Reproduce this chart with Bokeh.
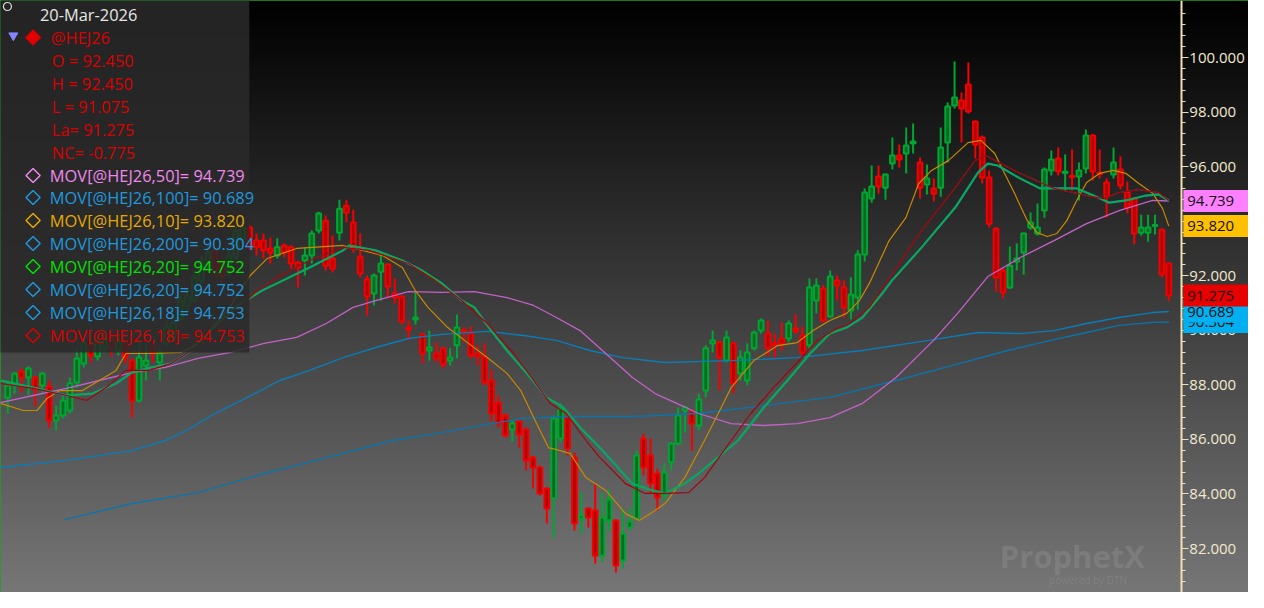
import numpy as np
from bokeh.plotting import figure
from bokeh.models import (ColumnDataSource, LinearAxis, FixedTicker,
                          PrintfTickFormatter, BoxAnnotation, Label)
from bokeh.core.properties import value
from bokeh.embed import file_html
from bokeh.resources import INLINE

# ---------------- data ----------------
symbol = "@HEJ26"
date_label = "20-Mar-2026"
price_ticks = [82, 84, 86, 88, 90, 92, 94, 96, 98, 100]

opens = [
    87.53, 87.98, 88.49, 88.27, 88.27, 87.98, 87.94, 86.69, 86.88, 87.06,
    88.09, 88.78, 89.45, 89.04, 89.34, 89.70, 89.26, 89.52, 88.89, 87.43,
    88.71, 89.45, 88.82, 89.52, 89.74, 90.40, 90.91, 91.09, 91.83, 92.30,
    92.93, 92.48, 92.19, 92.67, 93.29, 93.77, 93.29, 93.29, 93.00, 92.74,
    93.11, 93.04, 92.48, 92.56, 92.74, 93.66, 94.02, 92.63, 93.58, 94.57,
    93.95, 92.70, 91.86, 91.35, 92.15, 92.41, 91.35, 91.24, 90.10, 90.40,
    89.85, 89.26, 89.15, 89.34, 88.89, 89.45, 90.01, 89.88, 89.15, 89.04,
    88.16, 87.35, 86.88, 86.36, 86.66, 86.36, 85.34, 84.97, 84.20, 83.83,
    86.03, 86.80, 85.34, 83.10, 83.47, 83.39, 81.74, 83.03, 83.03, 81.56,
    82.77, 83.10, 86.03, 85.41, 84.75, 83.94, 85.16, 85.85, 87.06, 87.02,
    86.51, 87.79, 89.52, 89.56, 88.89, 89.52, 88.42, 88.16, 89.34, 89.99,
    89.88, 89.52, 89.70, 89.70, 90.07, 89.81, 89.45, 91.09, 91.53, 90.51,
    91.83, 91.57, 90.73, 91.20, 92.78, 94.83, 95.64, 95.23, 96.11, 96.41,
    96.48, 96.85, 96.15, 95.34, 95.20, 95.23, 96.88, 98.24, 98.42, 99.01,
    97.65, 97.07, 95.60, 93.73, 92.19, 91.57, 92.52, 92.85, 93.77, 93.55,
    94.39, 95.86, 96.30, 95.77, 95.66, 95.64, 95.93, 97.14, 95.77, 95.42,
    95.71, 95.89, 95.05, 94.83, 93.58, 93.58, 93.82, 93.69, 92.45]

highs = [
    88.16, 88.45, 88.60, 88.67, 88.31, 88.45, 88.16, 87.24, 87.61, 88.27,
    89.37, 89.74, 89.70, 89.78, 89.99, 89.85, 89.88, 89.88, 88.97, 89.63,
    89.45, 89.52, 89.34, 90.36, 90.51, 91.28, 91.46, 92.19, 92.74, 93.11,
    93.11, 92.74, 92.93, 93.84, 94.10, 93.84, 93.55, 93.55, 93.40, 93.37,
    93.18, 93.11, 92.55, 93.04, 93.66, 94.35, 94.21, 93.47, 94.79, 94.79,
    94.43, 93.55, 92.01, 92.08, 92.85, 92.45, 91.90, 91.28, 90.36, 91.42,
    89.90, 89.99, 89.56, 89.38, 89.34, 90.58, 90.10, 90.14, 89.45, 89.52,
    88.56, 87.61, 86.95, 86.69, 86.69, 86.44, 85.40, 85.04, 84.25, 86.88,
    87.32, 86.95, 85.52, 84.05, 83.50, 84.35, 84.05, 84.16, 83.08, 83.47,
    83.50, 85.59, 86.21, 86.03, 84.93, 85.12, 85.89, 87.17, 87.24, 87.08,
    87.68, 89.45, 89.99, 89.62, 89.99, 89.58, 89.26, 89.52, 89.99, 90.43,
    90.36, 89.88, 90.29, 90.36, 90.58, 90.14, 91.90, 91.90, 91.64, 92.19,
    92.01, 91.83, 91.94, 92.93, 95.20, 96.04, 96.04, 95.75, 97.07, 96.81,
    97.43, 97.58, 96.33, 96.08, 95.56, 97.43, 98.35, 99.85, 98.72, 99.82,
    97.69, 97.14, 95.86, 93.78, 92.30, 93.07, 93.18, 93.58, 94.32, 94.65,
    95.97, 96.59, 96.70, 96.44, 96.63, 96.15, 97.36, 97.19, 96.63, 95.56,
    96.70, 96.37, 95.45, 94.87, 94.24, 94.24, 94.24, 93.73, 92.45]

lows = [
    86.95, 87.68, 87.72, 87.64, 87.21, 87.68, 86.43, 86.33, 86.77, 86.95,
    87.90, 88.64, 88.82, 88.89, 89.19, 89.04, 89.08, 88.78, 86.80, 87.35,
    88.16, 88.82, 88.16, 89.41, 89.63, 90.36, 90.65, 91.02, 91.72, 92.19,
    91.94, 91.72, 92.01, 92.56, 93.11, 92.93, 92.74, 92.63, 92.45, 92.63,
    92.67, 92.26, 91.57, 92.01, 92.45, 93.55, 92.19, 92.12, 93.29, 93.95,
    92.85, 91.94, 90.54, 90.91, 91.09, 91.17, 90.98, 90.21, 89.63, 90.21,
    88.78, 88.89, 88.82, 88.60, 88.71, 88.97, 89.56, 88.97, 88.71, 87.98,
    86.66, 86.44, 86.07, 85.92, 85.70, 84.86, 84.20, 83.94, 82.92, 82.40,
    85.89, 85.41, 82.66, 82.55, 82.77, 81.45, 81.49, 82.66, 81.12, 81.27,
    82.66, 83.03, 84.68, 84.02, 83.39, 83.76, 84.86, 85.78, 86.25, 85.59,
    86.33, 87.54, 89.19, 87.79, 88.82, 87.68, 88.16, 87.98, 89.26, 89.88,
    89.04, 89.00, 89.26, 89.56, 89.88, 89.00, 89.26, 90.62, 90.29, 90.47,
    91.09, 90.47, 90.40, 90.76, 92.52, 94.68, 95.01, 94.79, 95.89, 95.97,
    95.75, 96.48, 94.83, 94.98, 94.72, 94.90, 96.15, 98.13, 96.88, 97.95,
    96.30, 95.38, 93.77, 91.42, 91.17, 91.52, 92.19, 92.04, 93.69, 93.47,
    94.13, 95.67, 95.67, 95.12, 95.12, 94.76, 95.75, 95.49, 95.56, 94.13,
    95.56, 95.16, 94.28, 93.15, 93.47, 93.25, 93.51, 91.94, 91.075]

closes = [
    87.98, 88.42, 88.27, 88.60, 87.83, 88.42, 86.69, 86.88, 87.43, 88.05,
    88.97, 89.52, 89.08, 89.56, 89.70, 89.34, 89.63, 89.00, 87.43, 89.00,
    88.89, 89.15, 89.15, 90.10, 90.25, 91.09, 91.28, 91.94, 92.56, 92.85,
    92.19, 92.01, 92.74, 93.66, 93.77, 93.04, 93.04, 92.93, 92.85, 93.04,
    92.85, 92.45, 92.30, 92.74, 93.55, 94.28, 92.37, 92.26, 94.46, 94.31,
    93.00, 92.08, 91.24, 92.01, 92.45, 91.61, 91.20, 90.32, 90.03, 90.47,
    89.15, 89.37, 88.97, 88.75, 89.00, 90.10, 89.94, 89.08, 89.04, 88.09,
    86.95, 86.58, 86.14, 86.58, 86.18, 85.23, 84.97, 84.02, 83.47, 86.77,
    87.13, 85.67, 82.92, 83.21, 83.14, 81.74, 83.14, 83.80, 81.38, 82.55,
    82.99, 85.41, 84.97, 84.38, 83.87, 84.79, 85.85, 86.88, 87.17, 86.58,
    87.46, 89.34, 89.63, 89.00, 89.74, 88.05, 89.00, 89.19, 89.92, 90.36,
    89.34, 89.45, 89.52, 90.25, 89.96, 89.19, 91.57, 91.64, 90.36, 91.97,
    91.64, 90.84, 91.31, 92.78, 95.05, 95.27, 95.27, 95.71, 96.41, 96.26,
    96.77, 96.92, 95.23, 95.56, 95.01, 96.70, 98.20, 98.53, 98.13, 98.02,
    96.81, 95.60, 93.91, 91.94, 91.39, 92.37, 92.63, 93.55, 93.95, 93.77,
    95.89, 96.26, 95.82, 95.81, 95.62, 95.86, 97.14, 95.82, 95.73, 94.90,
    96.15, 95.31, 94.50, 93.55, 93.77, 93.77, 93.86, 92.05, 91.275]

# moving averages, sampled along each line in the picture (bar index, value)
ma10_idx = [-1.04, 2.24, 4.24, 5.67, 7.53, 10.81, 13.24, 15.67, 17.10, 20.39, 25.10,
            27.53, 31.81, 35.10, 37.53, 41.81, 48.53, 54.24, 57.10, 58.96, 60.81, 63.67,
            66.10, 69.39, 72.24, 74.24, 76.10, 78.24, 79.96, 81.39, 83.67, 86.53, 89.39,
            91.39, 93.24, 95.10, 97.96, 100.81, 102.81, 104.67, 107.96, 111.39, 114.24,
            116.53, 118.96, 121.39, 123.24, 124.67, 127.53, 129.96, 131.81, 133.67,
            136.10, 138.96, 140.81, 142.81, 144.24, 145.67, 147.53, 148.96, 150.39,
            151.81, 153.24, 154.67, 156.10, 157.96, 159.96, 161.81, 163.67, 165.67,
            167.10, 168.0]
ma10_val = [87.32, 87.06, 87.06, 87.50, 87.79, 87.79, 88.16, 88.53, 89.15, 89.15, 89.19,
            89.52, 90.73, 92.01, 92.63, 93.00, 93.11, 92.74, 92.30, 91.46, 90.84, 90.10,
            89.63, 89.00, 88.42, 87.79, 86.80, 85.70, 85.59, 85.48, 84.60, 84.13, 83.28,
            83.03, 83.32, 83.65, 84.60, 85.96, 86.95, 87.90, 88.89, 89.44, 89.55, 89.99,
            90.36, 90.62, 91.09, 91.72, 93.29, 94.13, 95.38, 95.86, 96.22, 96.88, 96.96,
            96.48, 95.75, 95.02, 94.02, 93.58, 93.44, 93.55, 94.02, 94.76, 95.42, 95.75,
            95.86, 95.75, 95.38, 95.02, 94.46, 93.820]

ma18_idx = [-1.04, 3.67, 8.53, 11.39, 14.67, 17.10, 20.39, 23.67, 26.53, 28.53, 33.24,
            36.10, 38.96, 43.67, 48.53, 52.24, 57.96, 61.81, 65.67, 69.39, 73.24, 76.10,
            78.53, 80.81, 83.67, 85.67, 89.39, 92.24, 95.10, 98.53, 100.81, 104.67,
            107.53, 110.81, 114.24, 117.10, 119.96, 121.81, 124.67, 127.53, 132.24,
            137.10, 139.96, 141.53, 143.67, 146.53, 151.39, 156.10, 158.53, 160.81,
            163.67, 166.53, 168.0]
ma18_val = [88.05, 87.87, 87.61, 87.43, 87.98, 88.53, 88.53, 88.78, 89.26, 89.63, 90.80,
            91.46, 91.93, 92.56, 93.04, 92.93, 92.45, 91.83, 91.09, 90.25, 89.15, 88.16,
            87.32, 86.95, 85.96, 85.34, 84.38, 84.02, 84.02, 84.05, 84.60, 85.96, 86.95,
            87.90, 88.82, 89.63, 90.07, 90.25, 90.84, 91.90, 93.66, 95.23, 96.22, 96.41,
            96.11, 95.75, 95.20, 94.94, 94.83, 95.05, 95.16, 95.05, 94.753]

ma20_idx = [-1.04, 3.67, 8.53, 12.24, 15.67, 17.96, 20.81, 23.67, 26.53, 29.39, 33.24,
            36.81, 38.96, 43.67, 48.53, 49.39, 53.24, 57.10, 59.96, 62.81, 65.67, 67.53,
            69.96, 72.24, 75.10, 77.96, 80.39, 82.81, 84.67, 85.67, 90.39, 93.24, 95.10,
            97.96, 99.96, 105.67, 109.39, 112.81, 116.10, 118.96, 121.39, 123.67, 126.53,
            127.96, 132.24, 137.10, 140.39, 141.81, 143.24, 146.53, 149.39, 152.24,
            154.67, 157.10, 159.39, 161.81, 164.67, 166.53, 168.0]
ma20_val = [88.16, 87.90, 87.61, 87.68, 88.05, 88.45, 88.64, 88.78, 89.26, 89.99, 90.91,
            91.46, 91.72, 92.30, 92.93, 93.11, 92.93, 92.56, 92.19, 91.72, 91.09, 90.84,
            89.99, 89.26, 88.42, 87.54, 87.17, 86.44, 85.96, 85.70, 84.38, 84.13, 84.02,
            84.38, 84.75, 85.96, 87.17, 88.16, 89.15, 89.88, 90.10, 90.47, 91.35, 91.83,
            93.04, 94.50, 95.78, 96.11, 96.04, 95.56, 95.20, 95.20, 95.20, 94.94, 94.68,
            94.76, 94.94, 94.98, 94.752]

ma50_idx = [-1.04, 3.67, 8.53, 13.24, 17.96, 22.81, 27.53, 32.24, 37.10, 41.81, 46.10,
            49.96, 53.24, 57.96, 62.81, 67.53, 72.24, 76.10, 79.39, 82.81, 86.53, 90.39,
            93.67, 97.53, 99.96, 104.67, 109.39, 114.24, 118.96, 123.67, 128.53, 133.96,
            137.53, 141.81, 146.53, 151.39, 156.10, 160.81, 165.67, 168.0]
ma50_val = [87.35, 87.61, 87.87, 88.16, 88.45, 88.64, 88.97, 89.19, 89.52, 89.74, 90.25,
            90.84, 91.09, 91.42, 91.39, 91.42, 91.20, 90.91, 90.47, 89.99, 89.15, 88.27,
            87.68, 87.24, 86.95, 86.58, 86.51, 86.58, 86.80, 87.32, 88.27, 89.63, 90.65,
            91.97, 92.67, 93.29, 93.91, 94.39, 94.76, 94.739]

ma100_idx = [-1.04, 8.53, 17.96, 22.81, 26.10, 29.96, 34.67, 39.39, 43.67, 48.53, 53.24,
             57.96, 62.81, 69.39, 74.67, 79.39, 84.24, 88.96, 95.10, 104.67, 114.24,
             123.67, 133.24, 140.39, 146.53, 151.39, 156.10, 160.81, 165.67, 168.0]
ma100_val = [84.97, 85.23, 85.59, 85.96, 86.36, 86.95, 87.54, 88.16, 88.53, 89.00, 89.37,
             89.70, 89.85, 89.96, 89.81, 89.63, 89.26, 89.00, 88.82, 88.89, 89.00, 89.26,
             89.63, 89.92, 89.88, 89.99, 90.25, 90.47, 90.65, 90.689]

ma200_idx = [8.24, 17.96, 27.53, 37.10, 41.81, 55.67, 62.81, 69.96, 74.67, 81.81, 90.39,
             99.96, 109.39, 118.96, 128.53, 135.67, 144.67, 151.39, 156.10, 160.81,
             165.67, 168.0]
ma200_val = [83.06, 83.65, 84.05, 84.75, 85.05, 85.96, 86.25, 86.58, 86.77, 86.84, 86.84,
             86.95, 87.24, 87.54, 88.16, 88.64, 89.26, 89.66, 89.92, 90.18, 90.29, 90.304]

# ---------------- layout helpers (reference pixel -> data coordinate) ----------------
FONT = "Open Sans"
W, H = 1248, 592
X0, X1 = -7.3 / 7, (1264 - 7.3) / 7
Y1 = 100 + 57 / 27.28
Y0 = 100 - (H - 57) / 27.28


def sx(px):
    return (px - 7.3) / 7


def sy(py):
    return 100 - (py - 57) / 27.28


p = figure(width=W, height=H, x_range=(X0, X1), y_range=(Y0, Y1),
           output_backend="svg", toolbar_location=None,
           x_axis_type=None, y_axis_type=None, min_border=0)
p.background_fill_color = "#000000"
p.border_fill_color = "#000000"
p.outline_line_color = "#22a022"
p.outline_line_width = 1

# background gradient (black at top -> grey at bottom)
rows = 296
img = np.empty((rows, 1), dtype=np.uint32)
view = img.view(dtype=np.uint8).reshape((rows, 1, 4))
for r in range(rows):
    frac = (r + 0.5) / rows
    yref = H * (1 - frac)
    g = int(min(255, 0.2 * yref))
    view[r, 0, :] = (g, g, g, 255)
p.image_rgba(image=[img], x=X0, y=Y0, dw=X1 - X0, dh=Y1 - Y0)

# ---------------- candles ----------------
n = len(opens)
bars = list(range(n))


def cdata(sel):
    return ColumnDataSource(dict(
        x=[bars[i] for i in sel],
        high=[highs[i] for i in sel], low=[lows[i] for i in sel],
        top=[max(opens[i], closes[i]) for i in sel],
        bottom=[min(opens[i], closes[i]) for i in sel]))


inc = [i for i in bars if closes[i] >= opens[i]]
dec = [i for i in bars if closes[i] < opens[i]]
G_LINE, G_FILL = "#00a632", "#006b22"
R_LINE, R_FILL = "#f40000", "#b00000"
for sel, lc, fc in ((inc, G_LINE, G_FILL), (dec, R_LINE, R_FILL)):
    s = cdata(sel)
    p.segment(x0="x", y0="low", x1="x", y1="high", source=s, line_color=lc, line_width=2)
    p.vbar(x="x", width=0.68, top="top", bottom="bottom", source=s,
           fill_color=fc, line_color=lc, line_width=2)

# ---------------- moving averages ----------------
p.line(ma200_idx, ma200_val, line_color="#0a74ac", line_width=1.4)
p.line(ma100_idx, ma100_val, line_color="#0a7cb8", line_width=1.4)
p.line(ma50_idx, ma50_val, line_color="#c262c6", line_width=1.3)
p.line(ma10_idx, ma10_val, line_color="#c88a00", line_width=1.2)
p.line(ma20_idx, ma20_val, line_color="#1a8cc8", line_width=2.2)
p.line(ma20_idx, ma20_val, line_color="#00b822", line_width=1.3)
p.line(ma18_idx, ma18_val, line_color="#1a8cc8", line_width=0.8)
p.line(ma18_idx, ma18_val, line_color="#a80000", line_width=1.2)

# ---------------- right axis ----------------
minor = [t / 10 for t in range(800, 1020, 4)]
ax = LinearAxis(fixed_location=sx(1196),
                ticker=FixedTicker(ticks=price_ticks, minor_ticks=minor),
                formatter=PrintfTickFormatter(format="%.3f"))
ax.axis_line_color = "#efe0b4"
ax.axis_line_width = 2
ax.major_tick_line_color = "#efe0b4"
ax.minor_tick_line_color = "#efe0b4"
ax.major_tick_out = 7
ax.major_tick_in = 0
ax.minor_tick_out = 4
ax.minor_tick_in = 0
ax.major_label_standoff = 1
ax.major_label_text_color = "#f2e9cf"
ax.major_label_text_font = FONT
ax.major_label_text_font_size = "15px"
p.add_layout(ax, "right")

# value tags on the axis
tag_vals = [ma200_val[-1], ma100_val[-1], closes[-1], ma10_val[-1], ma50_val[-1]]
tag_cols = ["#00b0f0", "#00b0f0", "#e60000", "#ffc000", "#ff80ff"]
for v, c in zip(tag_vals, tag_cols):
    p.rect(x=[sx(1231)], y=[v], width=sx(1264) - sx(1198), height=22, height_units="screen",
           fill_color=c, line_color=None, level="overlay")
    p.text(x=[sx(1202)], y=[v], text=["%.3f" % v], text_baseline="middle",
           text_font=value(FONT), text_font_size="15px", text_color="#111111",
           level="overlay")

# ---------------- legend panel ----------------
p.add_layout(BoxAnnotation(left=sx(-5), right=sx(252), top=sy(-5), bottom=sy(352),
                           fill_color="#2a2a2a", fill_alpha=0.86, line_alpha=0))


def lab(x, y, text, color, size="16.4px"):
    p.add_layout(Label(x=sx(x), y=sy(y), text=text, text_color=color,
                       text_font=FONT, text_font_size=size, text_baseline="middle"))


RED_T = "#dc0000"
BLUE_T = "#1e98de"
lab(40, 14, date_label, "#e6e6e6")
lab(51, 37, symbol, RED_T)
prev_close = closes[-2]
lab(52, 60, "O = %.3f" % opens[-1], RED_T)
lab(52, 83, "H = %.3f" % highs[-1], RED_T)
lab(52, 106, "L = %.3f" % lows[-1], RED_T)
lab(52, 129, "La= %.3f" % closes[-1], RED_T)
lab(52, 152, "NC= %.3f" % (closes[-1] - prev_close), RED_T)

mov_rows = [
    (50, ma50_val[-1], "#ee88ee"),
    (100, ma100_val[-1], BLUE_T),
    (10, ma10_val[-1], "#e6a800"),
    (200, ma200_val[-1], BLUE_T),
    (20, ma20_val[-1], "#00e000"),
    (20, ma20_val[-1], BLUE_T),
    (18, ma18_val[-1], BLUE_T),
    (18, ma18_val[-1], RED_T),
]
row_y = [175, 197, 220, 243, 266, 289, 312, 335]
for (per, v, col), yy in zip(mov_rows, row_y):
    lab(50, yy, "MOV[%s,%d]= %.3f" % (symbol, per, v), col)

p.scatter(x=[sx(33)] * len(row_y), y=[sy(yy) for yy in row_y], marker="square",
          angle=np.pi / 4, size=10, fill_alpha=0, line_color=[c for _, _, c in mov_rows],
          line_width=1.5, level="overlay")
p.scatter(x=[sx(33)], y=[sy(37)], marker="square", angle=np.pi / 4, size=11,
          fill_color="#e00000", line_color="#e00000", level="overlay")
p.scatter(x=[sx(13)], y=[sy(35)], marker="inverted_triangle", size=9,
          fill_color="#8585ff", line_color="#8585ff", level="overlay")
p.scatter(x=[sx(7)], y=[sy(6)], marker="circle", size=8, fill_alpha=0,
          line_color="#e0e0e0", line_width=1.2, level="overlay")

# ---------------- watermark ----------------
p.text(x=[sx(1012)], y=[sy(555)], text=["ProphetX"], text_baseline="middle",
       text_font=value(FONT), text_font_size="31px", text_font_style="bold",
       text_color="#a0a0a0", text_alpha=0.3)
p.text(x=[sx(1062)], y=[sy(579)], text=["powered by DTN"], text_baseline="middle",
       text_font=value(FONT), text_font_size="10px", text_color="#a0a0a0", text_alpha=0.3)

open("out.html", "w").write(file_html(p, INLINE))
